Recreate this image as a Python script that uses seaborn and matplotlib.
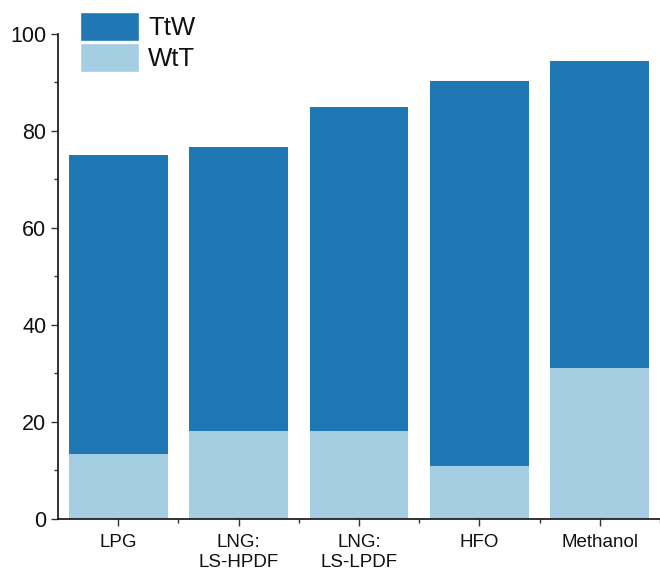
import pandas as pd
import seaborn as sns
import matplotlib.pyplot as plt
from matplotlib.patches import Patch
from matplotlib.ticker import MultipleLocator, FixedLocator

# ===============================
# DATA
# ===============================
fuels = ["LPG", "LNG:\nLS-HPDF", "LNG:\nLS-LPDF", "HFO", "Methanol"]
wtt   = [13.3, 18.0, 18.0, 10.9, 31.0]
ttw   = [61.7, 58.7, 66.8, 79.4, 63.4]

DARK  = "#1f77b4"
LIGHT = "#a6cee3"

df = pd.DataFrame({"fuel": fuels, "WtT": wtt, "TtW": ttw})
df["total"] = df["WtT"] + df["TtW"]

# ===============================
# PLOT
# ===============================
sns.set_style("ticks")
plt.rcParams["font.family"] = ["Liberation Sans", "DejaVu Sans"]

fig = plt.figure(figsize=(6.6, 5.72), dpi=100)
ax = fig.add_axes([0.088, 0.093, 0.912, 0.848])

# stacked: total (TtW on top) drawn first, WtT over it
sns.barplot(data=df, x="fuel", y="total", color=DARK, saturation=1,
            width=0.82, linewidth=0, ax=ax)
sns.barplot(data=df, x="fuel", y="WtT", color=LIGHT, saturation=1,
            width=0.82, linewidth=0, ax=ax)

ax.set_xlim(-0.5, 4.5)
ax.set_ylim(0, 100)
ax.set_xlabel("")
ax.set_ylabel("")

ax.yaxis.set_major_locator(MultipleLocator(20))
ax.yaxis.set_minor_locator(MultipleLocator(10))
ax.xaxis.set_minor_locator(FixedLocator([0.5, 1.5, 2.5, 3.5, 4.5]))

ax.tick_params(axis="both", which="major", length=5, width=1, color="#333333")
ax.tick_params(axis="both", which="minor", length=3, width=1, color="#333333")
ax.tick_params(axis="y", labelsize=15.5, labelcolor="#111111")
ax.tick_params(axis="x", labelsize=13.5, labelcolor="#111111", pad=6)

for side in ["left", "bottom"]:
    ax.spines[side].set_linewidth(1.2)
    ax.spines[side].set_color("#111111")
sns.despine(ax=ax)

handles = [Patch(facecolor=DARK, label="TtW"),
           Patch(facecolor=LIGHT, label="WtT")]
fig.legend(handles=handles, loc="upper left", bbox_to_anchor=(0.121, 0.979),
           frameon=False, fontsize=18.5, handlelength=2.3, handleheight=1.35,
           handletextpad=0.35, labelspacing=0.1, borderpad=0, borderaxespad=0,
           labelcolor="#111111")

fig.savefig("out.png", dpi=100)
